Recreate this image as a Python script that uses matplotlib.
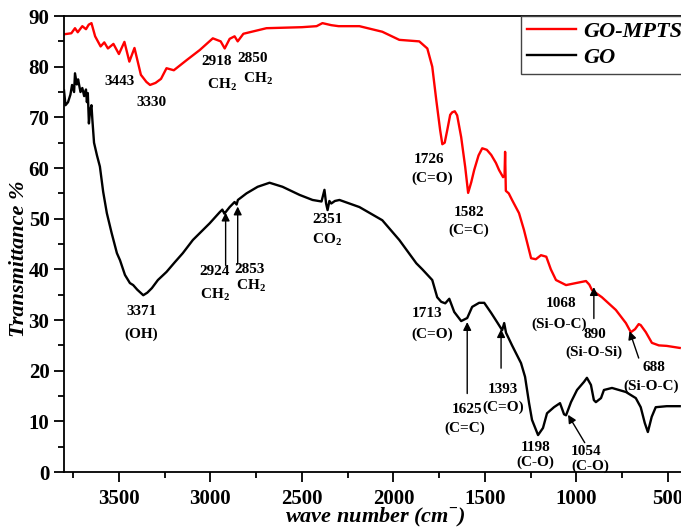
"""
FTIR spectra of GO and GO-MPTS
"""
import numpy as np
import matplotlib.pyplot as plt

# GO-MPTS (red) spectrum
wnMPTS = [3800, 3760, 3740, 3725, 3700, 3680, 3665, 3650, 3630, 3600, 3580, 3560,
          3530, 3500, 3470, 3443, 3415, 3380, 3350, 3330, 3300, 3270, 3240, 3200,
          3130, 3058, 2987, 2944, 2922, 2895, 2868, 2851, 2820, 2694, 2500, 2420,
          2388, 2340, 2300, 2186, 2061, 1968, 1859, 1815, 1788, 1766, 1745, 1733,
          1720, 1706, 1690, 1679, 1665, 1652, 1630, 1608, 1592, 1575, 1559, 1535,
          1515, 1490, 1466, 1440, 1423, 1401, 1393, 1390, 1386, 1370, 1352, 1314,
          1287, 1248, 1222, 1194, 1165, 1140, 1112, 1057, 1003, 948, 930, 915,
          861, 785, 730, 703, 680, 660, 649, 621, 588, 550, 507, 436]
trMPTS = [86.4, 86.6, 87.6, 86.8, 88.0, 87.4, 88.3, 88.6, 86.0, 84.0, 84.8, 83.6,
          84.5, 82.5, 84.9, 81.0, 83.7, 78.4, 77.0, 76.4, 76.8, 77.6, 79.7, 79.3,
          81.3, 83.3, 85.6, 85.0, 83.6, 85.5, 86.0, 85.0, 86.5, 87.6, 87.8, 88.0,
          88.6, 88.2, 88.0, 88.0, 86.9, 85.3, 85.0, 83.6, 80.0, 73.4, 67.5, 64.7,
          65.0, 67.5, 70.5, 71.0, 71.2, 70.4, 66.1, 60.2, 55.1, 57.2, 59.6, 62.5,
          63.9, 63.6, 62.6, 61.0, 59.6, 58.2, 58.6, 63.2, 55.5, 55.0, 53.7, 51.1,
          47.8, 42.2, 42.0, 42.8, 42.5, 40.0, 37.9, 36.9, 37.3, 37.7, 37.0, 35.9,
          34.5, 32.0, 29.4, 27.6, 28.2, 29.2, 29.0, 27.6, 25.5, 25.0, 24.9, 24.5]

# GO (black) spectrum
wnGO = [3800, 3792, 3778, 3765, 3756, 3745, 3740, 3730, 3723, 3710, 3700, 3690,
        3680, 3675, 3670, 3664, 3657, 3650, 3645, 3636, 3620, 3604, 3586, 3566,
        3540, 3511, 3494, 3467, 3440, 3422, 3400, 3367, 3345, 3320, 3287, 3240,
        3195, 3151, 3096, 3004, 2949, 2935, 2924, 2917, 2895, 2868, 2857, 2850,
        2803, 2742, 2677, 2606, 2513, 2442, 2393, 2377, 2368, 2360, 2350, 2340,
        2320, 2295, 2186, 2061, 1968, 1875, 1842, 1788, 1761, 1739, 1717, 1695,
        1668, 1630, 1597, 1570, 1532, 1504, 1466, 1434, 1406, 1395, 1385, 1352,
        1303, 1281, 1259, 1243, 1210, 1183, 1161, 1123, 1090, 1068, 1057, 1030,
        997, 959, 943, 921, 905, 894, 866, 850, 806, 730, 676, 649, 627, 610,
        589, 567, 507, 436]
trGO = [75.3, 72.4, 73.0, 74.5, 76.4, 75.0, 78.7, 76.5, 77.5, 75.0, 75.8, 74.2,
        75.5, 73.0, 74.8, 68.8, 71.5, 72.4, 69.5, 65.0, 62.5, 60.3, 55.3, 51.1,
        47.2, 43.2, 41.8, 38.9, 37.3, 36.9, 36.0, 34.9, 35.4, 36.3, 37.9, 39.5,
        41.4, 43.2, 45.8, 49.1, 51.3, 51.8, 51.0, 51.3, 52.3, 53.3, 52.8, 53.7,
        55.0, 56.3, 57.1, 56.3, 54.7, 53.7, 53.4, 55.7, 53.0, 51.7, 53.5, 53.0,
        53.5, 53.7, 52.3, 49.7, 45.8, 41.2, 40.0, 37.9, 34.5, 33.6, 33.3, 34.2,
        31.6, 29.8, 30.4, 32.6, 33.4, 33.4, 31.4, 29.6, 28.0, 29.4, 27.5, 25.0,
        21.5, 18.8, 13.6, 10.3, 7.3, 8.7, 11.6, 12.8, 13.6, 11.4, 11.2, 13.8,
        16.2, 17.8, 18.6, 17.2, 14.2, 13.8, 14.6, 16.2, 16.6, 15.8, 14.6, 12.8,
        9.7, 7.9, 10.9, 12.8, 13.0, 13.0]

# peak labels: (text, wave number, transmittance)
labels = [("3443", 3495, 77.0), ("3330", 3320, 73.0),
          ("2918", 2966, 81.0), ("CH$_\\mathbf{2}$", 2939, 76.4),
          ("2850", 2770, 81.7), ("CH$_\\mathbf{2}$", 2742, 77.6),
          ("1726", 1804, 61.6), ("(C=O)", 1788, 58.0),
          ("1582", 1586, 51.3), ("(C=C)", 1586, 47.8),
          ("3371", 3375, 31.6), ("(OH)", 3378, 27.2),
          ("2924", 2977, 39.5), ("CH$_\\mathbf{2}$", 2977, 35.1),
          ("2853", 2786, 39.9), ("CH$_\\mathbf{2}$", 2780, 36.7),
          ("2351", 2360, 49.9), ("CO$_\\mathbf{2}$", 2365, 45.9),
          ("1713", 1815, 31.2), ("(C=O)", 1790, 27.2),
          ("1625", 1597, 12.4), ("(C=C)", 1612, 8.7),
          ("1393", 1401, 16.2), ("(C=O)", 1401, 12.8),
          ("1198", 1226, 4.9), ("(C-O)", 1226, 1.9),
          ("1054", 948, 4.1), ("(C-O)", 926, 1.1),
          ("1068", 1085, 33.2), ("(Si-O-C)", 1096, 29.2),
          ("890", 899, 27.2), ("(Si-O-Si)", 905, 23.6),
          ("688", 578, 20.7), ("(Si-O-C)", 590, 16.9)]

# arrows: (head wave number, head value, tail wave number, tail value)
arrows = [(2917, 51.2, 2917, 40.8), (2851, 52.4, 2851, 41.0),
          (1597, 29.6, 1597, 15.5), (1412, 28.2, 1412, 20.5),
          (1046, 11.3, 955, 5.8), (905, 36.5, 905, 30.3),
          (710, 27.8, 660, 22.5)]

plt.rcParams['font.family'] = 'Liberation Serif'
plt.rcParams['font.weight'] = 'bold'
plt.rcParams['mathtext.fontset'] = 'custom'
plt.rcParams['mathtext.rm'] = 'Liberation Serif:bold'
plt.rcParams['mathtext.bf'] = 'Liberation Serif:bold'

fig = plt.figure(figsize=(6.81, 5.31), dpi=100)
ax = fig.add_axes([0.094, 0.111, 0.9084, 0.8588])

ax.plot(wnMPTS, trMPTS, color='#ff0000', lw=1.7, label='GO-MPTS')
ax.plot(wnGO, trGO, color='black', lw=1.7, label='GO')

for (txt, x, y) in labels:
    ax.text(x, y, txt, fontsize=11, fontweight='bold', ha='center', va='center')

for (x1, y1, x0, y0) in arrows:
    ax.annotate('', xy=(x1, y1), xytext=(x0, y0),
                arrowprops=dict(arrowstyle='-|>', color='black', lw=1.0,
                                mutation_scale=12, shrinkA=0, shrinkB=0))

ax.set_xlim(3800, 420)
ax.set_ylim(0, 90)
ax.set_xticks(np.arange(3500, 400, -500))
ax.set_xticks(np.arange(3750, 400, -250), minor=True)
ax.set_yticks(np.arange(0, 91, 10))
ax.set_yticks(np.arange(0, 91, 5), minor=True)
ax.tick_params(which='both', direction='out', width=1.3, labelsize=15)
ax.tick_params(which='major', length=7)
ax.tick_params(which='minor', length=4)
ax.tick_params(axis='x', pad=5)
for sp in ax.spines.values():
    sp.set_linewidth(1.3)

ax.set_xlabel('wave number (cm$^{\\mathbf{-}}$)', fontsize=16, fontweight='bold',
              fontstyle='italic', va='center')
ax.xaxis.set_label_coords(0.503, -0.1)
ax.set_ylabel('Transmittance %', fontsize=16, fontweight='bold',
              fontstyle='italic', va='center')
ax.yaxis.set_label_coords(-0.073, 0.467)

leg = ax.legend(loc='upper left', bbox_to_anchor=(0.739, 1.0), borderaxespad=0,
                fancybox=False, framealpha=1, edgecolor='#444444', handlelength=2.2,
                prop=dict(family='Liberation Serif', weight='bold', style='italic', size=16),
                labelspacing=0.25, borderpad=0.25, handletextpad=0.35)
leg.get_frame().set_linewidth(1.0)

fig.savefig('out.png', dpi=100)
